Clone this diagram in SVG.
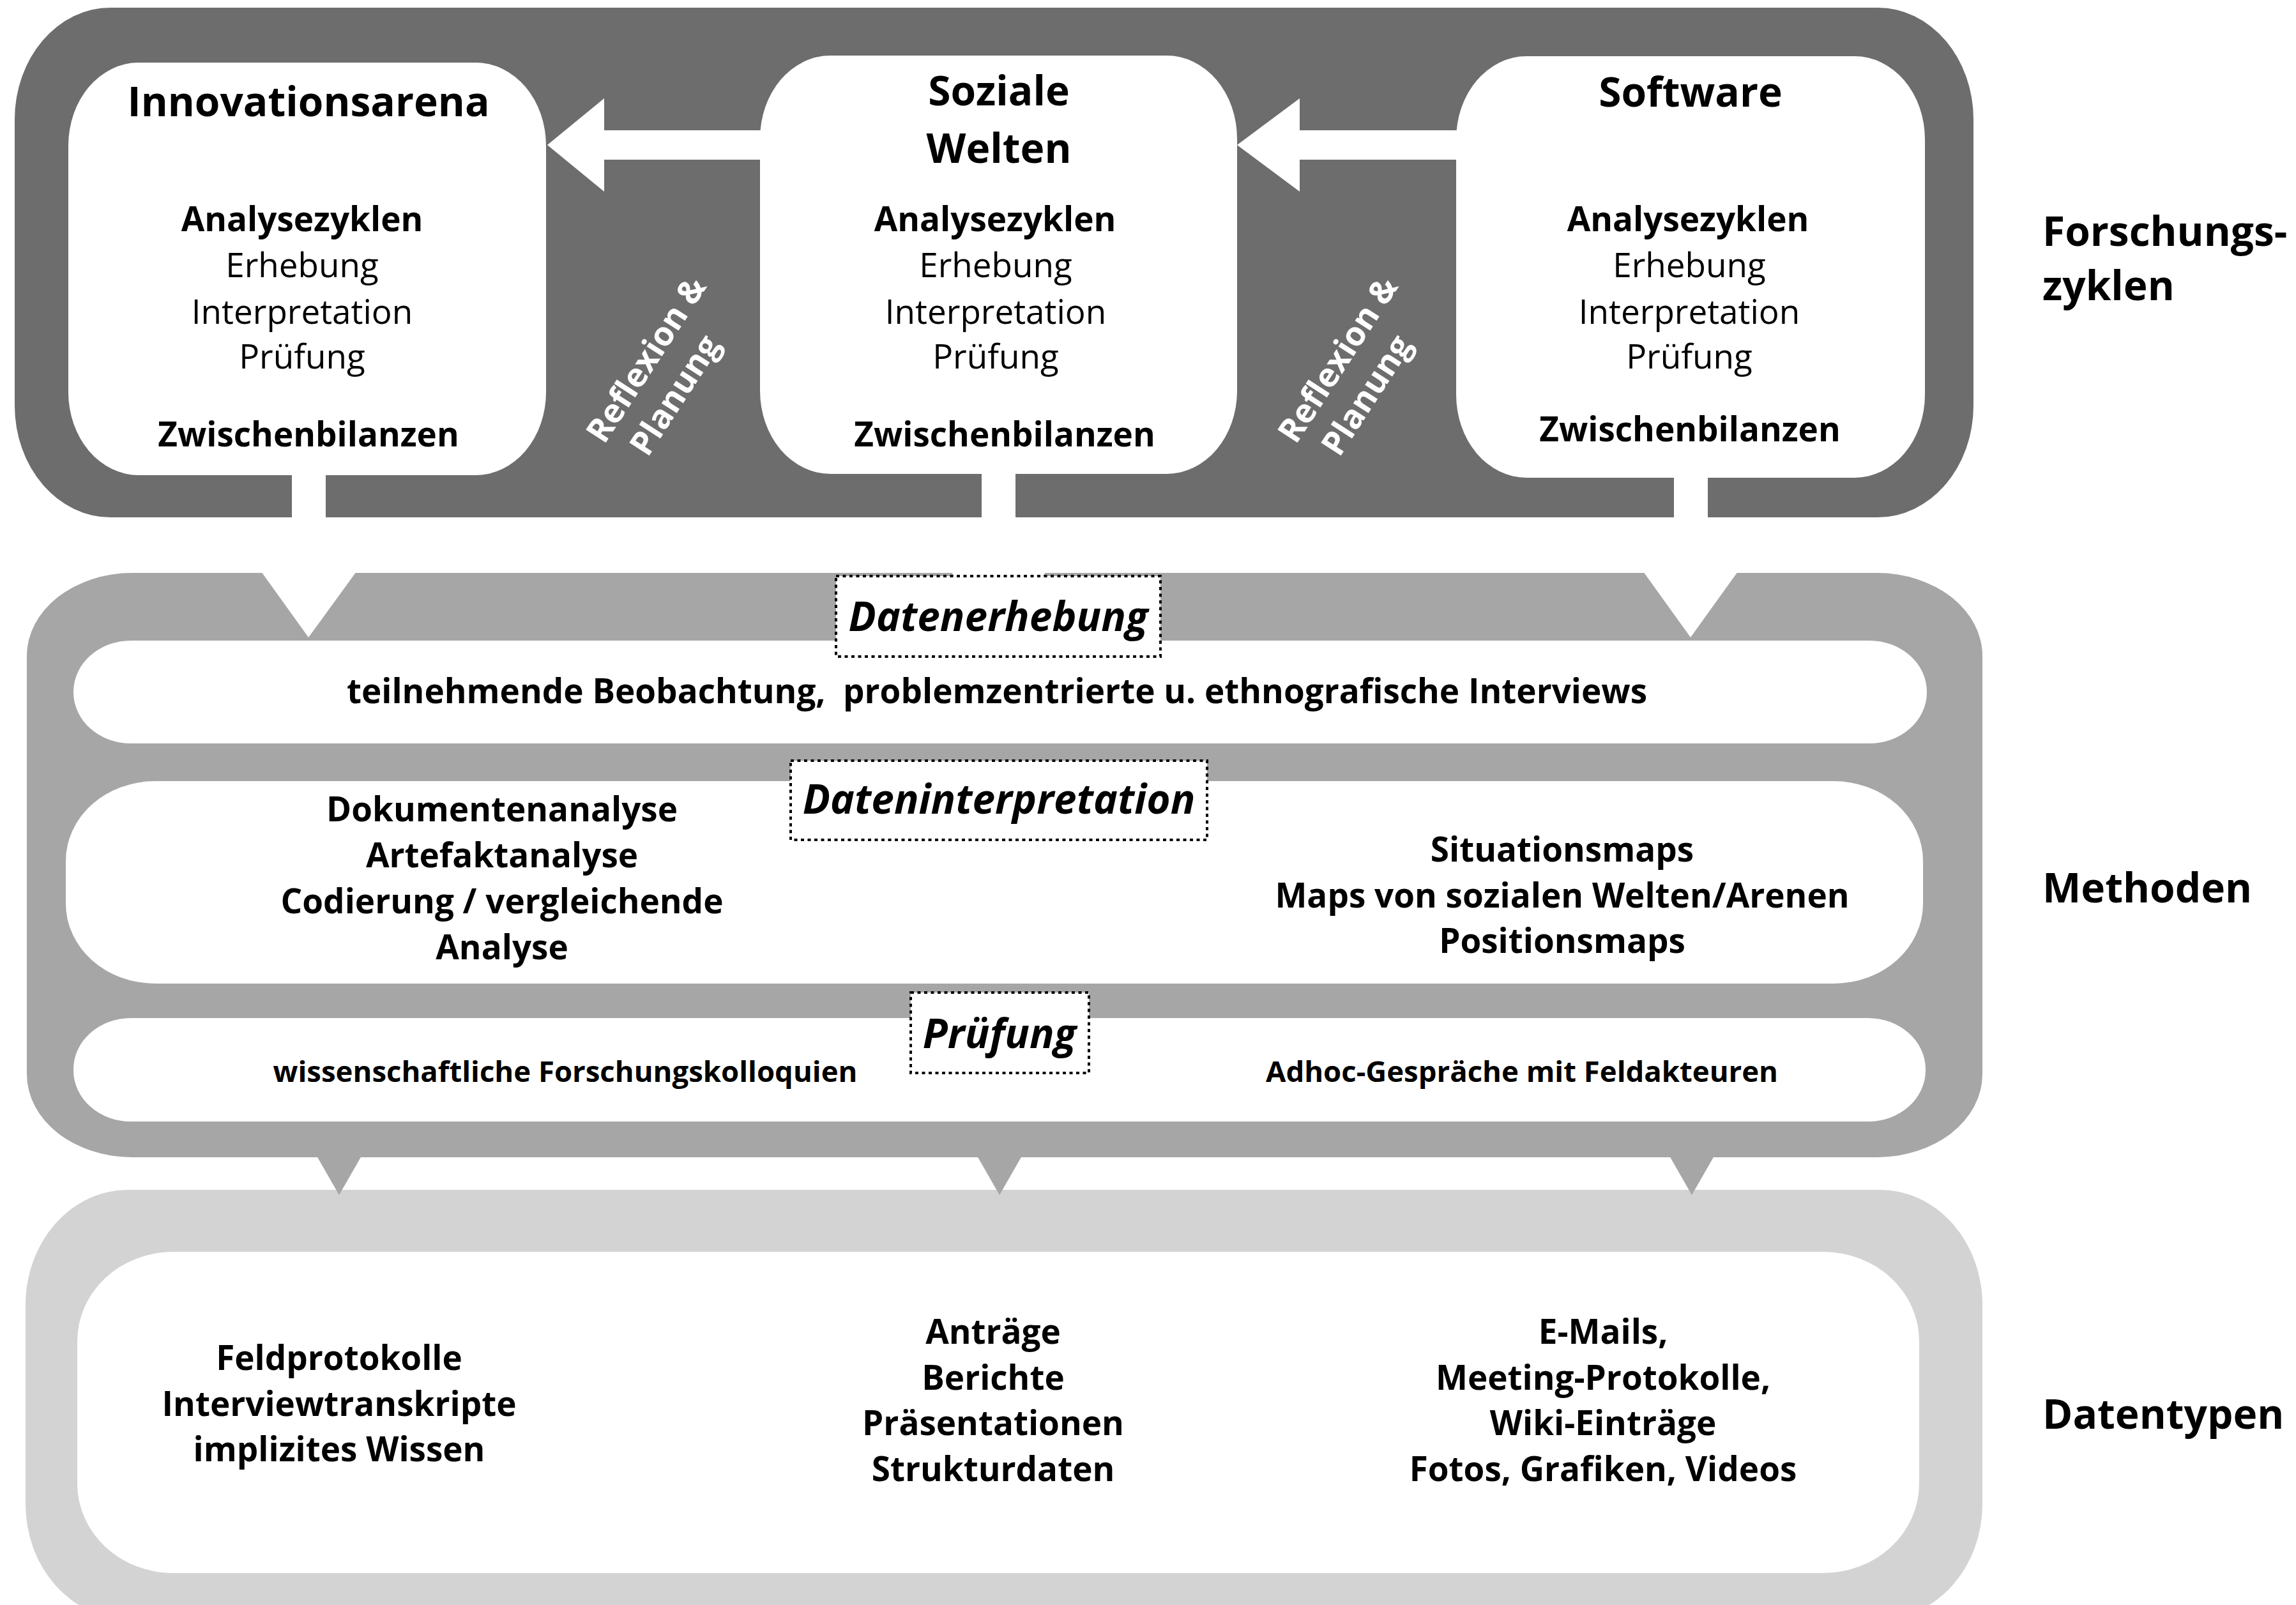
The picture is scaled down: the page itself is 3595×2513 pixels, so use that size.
<svg xmlns="http://www.w3.org/2000/svg" width="3595" height="2513" viewBox="0 0 3595 2513">
<style>
text{font-family:"Open Sans","Liberation Sans",sans-serif;fill:#000}
.b{font-weight:700}
.r{font-weight:400}
.c{text-anchor:middle}
.t{font-size:64px;font-weight:700}
.m{font-size:53px}
.side{font-size:64px;font-weight:700}
.lab{font-size:64px;font-weight:700;font-style:italic;text-anchor:middle}
.pill{font-size:53px;font-weight:700;text-anchor:middle}
.pill3{font-size:45.5px;font-weight:700;text-anchor:middle}
.dt{font-size:53px;font-weight:700;text-anchor:middle}
.refl{font-size:52px;font-weight:700;fill:#fff}
.white{fill:#fff}
.dark{fill:#6d6d6d}
.med{fill:#a6a6a6}
.light{fill:#d3d3d3}
.dot{fill:#fff;stroke:#000;stroke-width:4;stroke-dasharray:5 5.5}
</style>
<rect width="3595" height="2513" fill="#fff"/>

<g id="band-forschungszyklen">
<rect class="dark" x="23" y="12" width="3067" height="798" rx="150" ry="175"/>
</g>
<g id="band-methoden">
<rect class="med" x="42" y="897" width="3062" height="915" rx="165" ry="130"/>
</g>
<g id="band-datentypen">
<rect class="light" x="40" y="1863" width="3064" height="672" rx="160" ry="180"/>
</g>

<g id="node-innovationsarena">
<rect class="white" x="107" y="98" width="748" height="646" rx="110" ry="130"/>
</g>
<g id="node-soziale-welten">
<rect class="white" x="1190" y="87" width="747" height="655" rx="110" ry="130"/>
</g>
<g id="node-software">
<rect class="white" x="2280" y="88" width="734" height="660" rx="110" ry="130"/>
</g>

<g id="node-pill-erhebung">
<rect class="white" x="115" y="1003" width="2902" height="161" rx="90" ry="80"/>
</g>
<g id="node-pill-interpretation">
<rect class="white" x="103" y="1223" width="2908" height="317" rx="140" ry="125"/>
</g>
<g id="node-pill-pruefung">
<rect class="white" x="115" y="1594" width="2900" height="162" rx="90" ry="80"/>
</g>
<g id="node-datentypen-box">
<rect class="white" x="121" y="1960" width="2884" height="503" rx="150" ry="140"/>
</g>

<g id="connectors">
<rect class="white" x="457" y="735" width="53" height="80"/>
<rect class="white" x="1537" y="735" width="53" height="80"/>
<rect class="white" x="2621" y="735" width="53" height="80"/>
<polygon class="white" points="1195,204 946,204 946,154 857,227 946,300 946,250 1195,250"/>
<polygon class="white" points="2285,204 2035,204 2035,154 1937,227 2035,300 2035,250 2285,250"/>
<polygon class="white" points="409,895 558,895 483,998"/>
<polygon class="white" points="1489,895 1638,895 1563,998"/>
<polygon class="white" points="2573,895 2721,895 2647,998"/>
<polygon class="med" points="496,1810 566,1810 531,1871"/>
<polygon class="med" points="1530,1810 1600,1810 1565,1871"/>
<polygon class="med" points="2614,1810 2684,1810 2649,1871"/>
<g transform="translate(946,697) rotate(-57)">
<text class="refl" x="0" y="0">Reflexion &amp;</text>
<text class="refl" x="20" y="68">Planung</text>
</g>
<g transform="translate(2029,697) rotate(-57)">
<text class="refl" x="0" y="0">Reflexion &amp;</text>
<text class="refl" x="20" y="68">Planung</text>
</g>
</g>

<g id="label-datenerhebung">
<rect class="dot" x="1309" y="902" width="508" height="126"/>
<text class="lab" x="1563" y="988">Datenerhebung</text>
</g>
<g id="label-dateninterpretation">
<rect class="dot" x="1238" y="1191" width="652" height="124"/>
<text class="lab" x="1564" y="1274">Dateninterpretation</text>
</g>
<g id="label-pruefung">
<rect class="dot" x="1426" y="1554" width="279" height="126"/>
<text class="lab" x="1565" y="1641">Prüfung</text>
</g>

<g id="text-innovationsarena">
<text class="t c" x="483" y="182">Innovationsarena</text>
<text class="m b c" x="473" y="362">Analysezyklen</text>
<text class="m r c" x="473" y="434">Erhebung</text>
<text class="m r c" x="473" y="507">Interpretation</text>
<text class="m r c" x="473" y="577">Prüfung</text>
<text class="m b c" x="483" y="699">Zwischenbilanzen</text>
</g>
<g id="text-soziale-welten">
<text class="t c" x="1564" y="165">Soziale</text>
<text class="t c" x="1564" y="255">Welten</text>
<text class="m b c" x="1558" y="362">Analysezyklen</text>
<text class="m r c" x="1559" y="434">Erhebung</text>
<text class="m r c" x="1559" y="507">Interpretation</text>
<text class="m r c" x="1559" y="577">Prüfung</text>
<text class="m b c" x="1573" y="699">Zwischenbilanzen</text>
</g>
<g id="text-software">
<text class="t c" x="2647" y="167">Software</text>
<text class="m b c" x="2643" y="362">Analysezyklen</text>
<text class="m r c" x="2645" y="434">Erhebung</text>
<text class="m r c" x="2645" y="507">Interpretation</text>
<text class="m r c" x="2645" y="577">Prüfung</text>
<text class="m b c" x="2646" y="691">Zwischenbilanzen</text>
</g>

<g id="text-methoden">
<text class="pill" x="1561" y="1101" xml:space="preserve">teilnehmende Beobachtung,  problemzentrierte u. ethnografische Interviews</text>
<text class="pill" x="786" y="1286">Dokumentenanalyse</text>
<text class="pill" x="786" y="1358">Artefaktanalyse</text>
<text class="pill" x="786" y="1430">Codierung / vergleichende</text>
<text class="pill" x="786" y="1502">Analyse</text>
<text class="pill" x="2446" y="1349">Situationsmaps</text>
<text class="pill" x="2446" y="1421">Maps von sozialen Welten/Arenen</text>
<text class="pill" x="2446" y="1492">Positionsmaps</text>
<text class="pill3" x="885" y="1694">wissenschaftliche Forschungskolloquien</text>
<text class="pill3" x="2383" y="1694">Adhoc-Gespräche mit Feldakteuren</text>
</g>

<g id="text-datentypen">
<text class="dt" x="531" y="2145">Feldprotokolle</text>
<text class="dt" x="531" y="2217">Interviewtranskripte</text>
<text class="dt" x="531" y="2288">implizites Wissen</text>
<text class="dt" x="1555" y="2104">Anträge</text>
<text class="dt" x="1555" y="2176">Berichte</text>
<text class="dt" x="1555" y="2247">Präsentationen</text>
<text class="dt" x="1555" y="2319">Strukturdaten</text>
<text class="dt" x="2510" y="2104">E-Mails,</text>
<text class="dt" x="2510" y="2176">Meeting-Protokolle,</text>
<text class="dt" x="2510" y="2247">Wiki-Einträge</text>
<text class="dt" x="2510" y="2319">Fotos, Grafiken, Videos</text>
</g>

<g id="side-labels">
<text class="side" x="3198" y="385">Forschungs-</text>
<text class="side" x="3198" y="470">zyklen</text>
<text class="side" x="3198" y="1413">Methoden</text>
<text class="side" x="3198" y="2237">Datentypen</text>
</g>
</svg>
